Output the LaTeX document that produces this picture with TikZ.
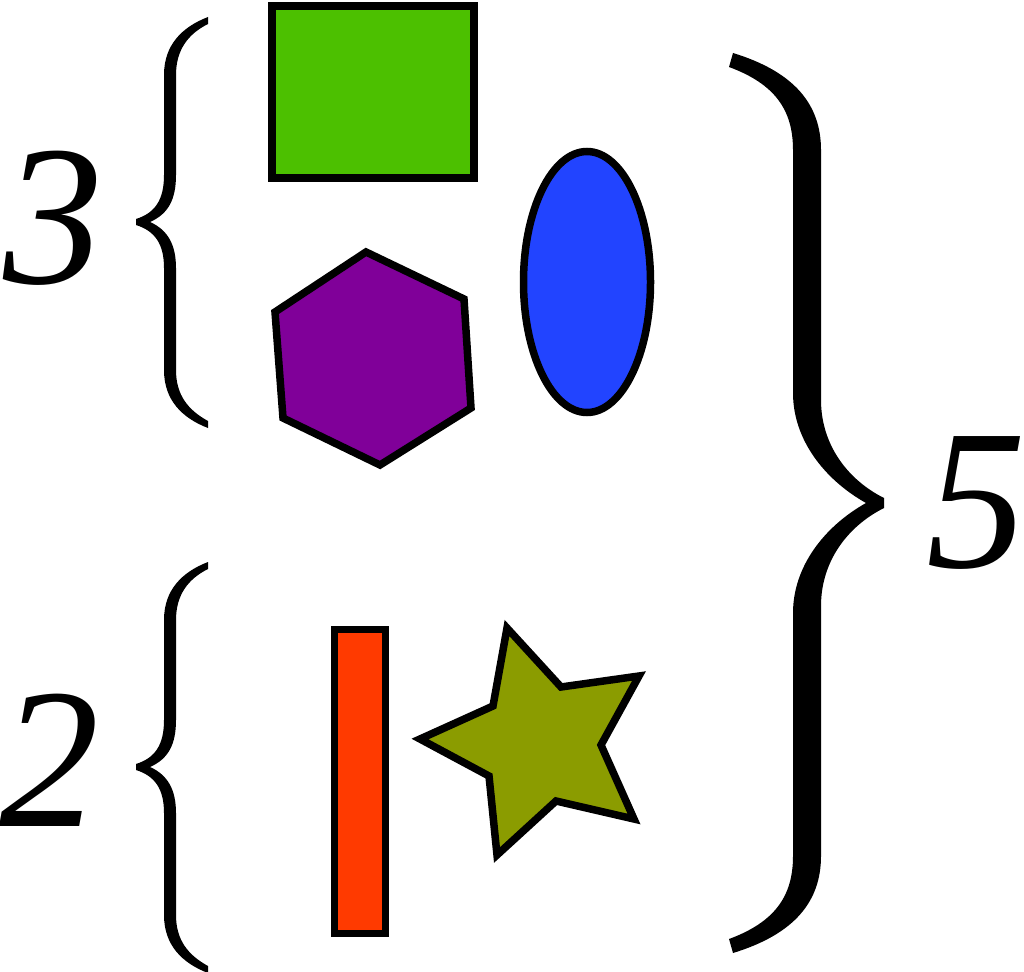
\documentclass[tikz,border=0pt]{standalone}
\usepackage{fontspec}
\setmainfont{Liberation Serif}
\usetikzlibrary{shapes.geometric}
\definecolor{cgreen}{RGB}{76,192,0}
\definecolor{cblue}{RGB}{34,68,255}
\definecolor{cpurple}{RGB}{128,0,153}
\definecolor{cred}{RGB}{255,58,0}
\definecolor{colive}{RGB}{139,156,0}
\tikzset{
  shp/.style={draw=black,line width=7.5pt,line join=miter},
  num/.style={font=\fontsize{200}{200}\selectfont\itshape,inner sep=0pt},
  brace/.style={fill=black,draw=none}
}
\begin{document}
\begin{tikzpicture}[x=1pt,y=-1pt]
\useasboundingbox (0,0) rectangle (1024,971);
% shapes
\node[shp,fill=cgreen,rectangle,minimum width=202pt,minimum height=172pt,inner sep=0pt] (sq) at (373,92) {};
\node[shp,fill=cblue,ellipse,minimum width=127pt,minimum height=261pt,inner sep=0pt] (ell) at (587,282) {};
\draw[shp,fill=cpurple] (366,252) -- (464,299) -- (471,408) -- (380,465) -- (283,418) -- (275,312) -- cycle;
\node[shp,fill=cred,rectangle,minimum width=51pt,minimum height=304pt,inner sep=0pt] (bar) at (360,781.5) {};
\draw[shp,fill=colive] (507,628) -- (561,687) -- (639,676) -- (601,745) -- (634,819) -- (556,801) -- (497,855) -- (489,776) -- (420,739) -- (493,706) -- cycle;
% small braces
\foreach \dy in {0,545}{
\begin{scope}[yshift=-\dy pt]
\fill[brace] (208,17) .. controls (182,27) and (164,45) .. (164,75) -- (164,175)
  .. controls (164,200) and (155,213) .. (136,219) -- (136,225)
  .. controls (155,231) and (164,244) .. (164,268) -- (164,370)
  .. controls (164,400) and (182,418) .. (208,428) -- (208,421)
  .. controls (188,410) and (176,395) .. (176,370) -- (176,268)
  .. controls (176,245) and (168,230) .. (150,222)
  .. controls (168,214) and (176,200) .. (176,175) -- (176,75)
  .. controls (176,50) and (188,34) .. (208,24) -- cycle;
\end{scope}}
% big brace
\fill[brace] (733,53) .. controls (795,72) and (821,105) .. (821,150) -- (821,400)
  .. controls (821,445) and (848,480) .. (884,498) -- (884,508)
  .. controls (848,526) and (821,561) .. (821,606) -- (821,856)
  .. controls (821,901) and (795,934) .. (733,953) -- (729,939)
  .. controls (775,922) and (793,896) .. (793,856) -- (793,613)
  .. controls (793,566) and (825,526) .. (866,503)
  .. controls (825,480) and (793,440) .. (793,393) -- (793,150)
  .. controls (793,110) and (775,84) .. (729,67) -- cycle;
% numbers
\node[num] (n3) at (54,218) {3};
\node[num] (n2) at (49,760) {2};
\node[num] (n5) at (976,503) {5};
\end{tikzpicture}
\end{document}
